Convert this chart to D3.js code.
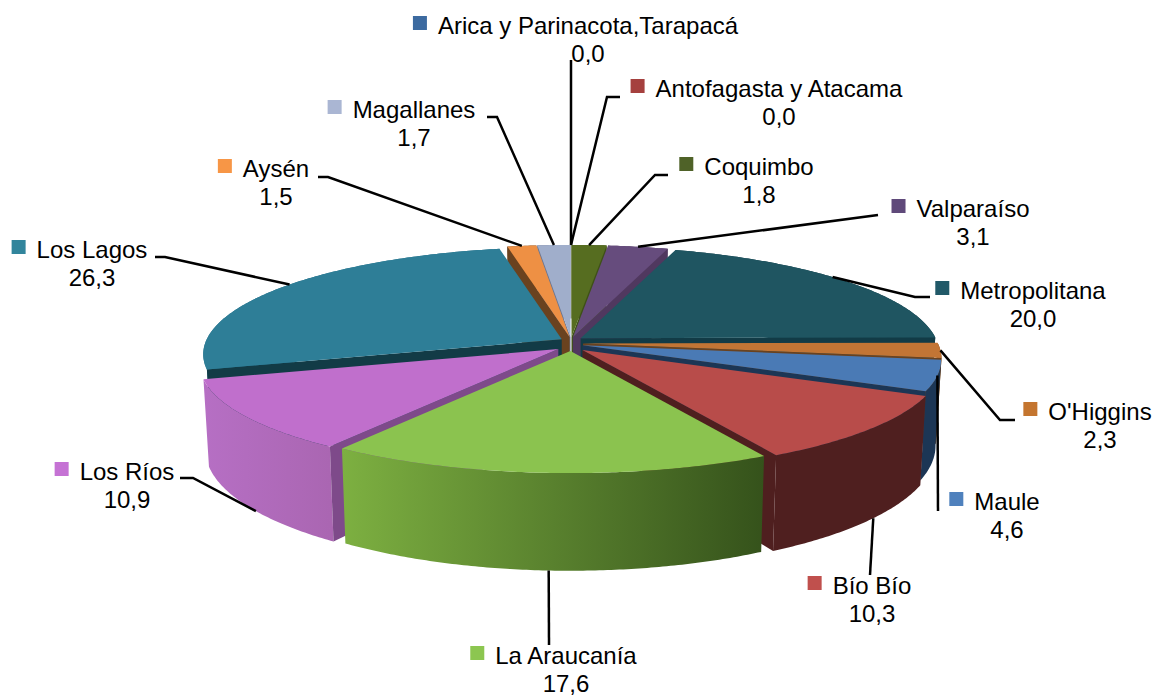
<!DOCTYPE html>
<html>
<head>
<meta charset="utf-8">
<script src="https://cdn.jsdelivr.net/npm/d3@7"></script>
<style>
  body { margin: 0; background: #fff; }
  text { font-family: "Liberation Sans", Arial, sans-serif; font-size: 24px; fill: #000; }
</style>
</head>
<body>
<div class="board"></div>
<script>
// values clockwise from 12 o'clock
var regions = ["Arica y Parinacota,Tarapacá", "Antofagasta y Atacama", "Coquimbo", "Valparaíso", "Metropolitana",
  "O'Higgins", "Maule", "Bío Bío", "La Araucanía", "Los Ríos", "Los Lagos", "Aysén", "Magallanes"];
var shares = [0.0, 0.0, 1.8, 3.1, 20.0, 2.3, 4.6, 10.3, 17.6, 10.9, 26.3, 1.5, 1.7];
var shareLabels = ["0,0", "0,0", "1,8", "3,1", "20,0", "2,3", "4,6", "10,3", "17,6", "10,9", "26,3", "1,5", "1,7"];

// colours
var legendColors = ["#3c6aa0", "#a5403e", "#4f6228", "#5f497a", "#215968", "#c4752f", "#4f81bd", "#c0504d", "#8cc650", "#c572d4", "#31859c", "#f79646", "#aab6d3"];
var topColors = ["#3c6aa0", "#a5403e", "#566d20", "#664c7d", "#1f5561", "#c27535", "#4a7ab5", "#b84c4a", "#8bc34f", "#c06fcc", "#2e7e97", "#ee9044", "#a0aecb"];
var sideColors = ["#24405f", "#5f2322", "#3f5018", "#50385f", "#123b46", "#6a421f", "#1c3655", "#4f1f1f", "#4f7a2a", "#7e4a8a", "#123b46", "#6a421f", "#6a7590"];
var wallLeft = ["#24405f", "#5f2322", "#3f5018", "#50385f", "#123b46", "#6a421f", "#1c3655", "#4f1f1f", "#7db041", "#b66fc4", "#2a7088", "#6a421f", "#6a7590"];
var wallRight = ["#24405f", "#5f2322", "#3f5018", "#50385f", "#123b46", "#6a421f", "#1c3655", "#4f1f1f", "#35521b", "#aa66b2", "#2a7088", "#6a421f", "#6a7590"];

// how far each slice is pulled out, relative to board.explodeX/Y
var explode = [0.75, 0.75, 0.75, 0.75, 1, 1, 1, 1.3, 1, 1.3, 0.9, 0.75, 0.75];

// label layout: centre of the name, baseline of the name, baseline of the value
var labelCx = [588, 779, 759, 973, 1033, 1100, 1007, 872, 566, 127, 92, 276, 414];
var labelY = [34, 97, 175, 217, 299, 420, 510, 594, 664, 480, 258, 177, 118];
var valueY = [62, 125, 203, 245, 327, 448, 538, 622, 692, 508, 286, 205, 146];
// elbow of each leader line, null means a straight line
var elbowStart = [[571, 60], [607, 97], [655, 175], [878, 215], [915, 297], [1000, 420], [938, 511], [870, 575], [549, 645], [193, 478], [165, 257], [328, 177], [497, 117]];
var elbowEnd = [null, [620, 97], [668, 175], null, [930, 297], [1015, 420], null, null, null, [180, 478], [155, 257], [318, 177], [487, 117]];
// leader lines do not leave exactly at the middle of the slice, degrees
var leaderShift = [0, 0, 0, 0, -3, 0, 0, -2, 0, -2, 3, 0, 0];

var board = { width: 1159, height: 696, cx: 571, cy: 343, rx: 355, ry: 105, persp: 0.14, depth: 84, explodeX: 12, explodeY: 8 };

var svg = d3.select(".board").append("svg")
  .attr("width", board.width)
  .attr("height", board.height);
var defs = svg.append("defs");

// a point on the disc (angle clockwise from north, radius 0..1) to the screen
function project(d, angle, r, low) {
  var mid = (d.startAngle + d.endAngle) / 2;
  var u = Math.sin(angle) * r, v = -Math.cos(angle) * r;
  var p = 1 / (1 - board.persp * v);
  var x = board.cx + explode[d.index] * board.explodeX * Math.sin(mid) + board.rx * u * p;
  var y = board.cy - explode[d.index] * board.explodeY * Math.cos(mid) + board.ry * v * p;
  if (low) {
    x = board.cx + (x - board.cx) * 0.985;
    y += board.depth * p;
  }
  return [x, y];
}

var line = d3.line();
var slices = d3.pie().sort(null).value(function(d) { return d; })(shares);

function arcPoints(d, low) {
  var n = Math.max(2, Math.ceil((d.endAngle - d.startAngle) / 0.01));
  return d3.range(n + 1).map(function(i) {
    return project(d, d.startAngle + (d.endAngle - d.startAngle) * i / n, 1, low);
  });
}

// back slices first so the front ones cover them
var order = d3.range(slices.length).filter(function(i) { return shares[i] > 0; });
order.sort(function(a, b) {
  var ma = (slices[a].startAngle + slices[a].endAngle) / 2;
  var mb = (slices[b].startAngle + slices[b].endAngle) / 2;
  return d3.ascending(-Math.cos(ma), -Math.cos(mb));
});

order.forEach(function(i) {
  var d = slices[i];
  var g = svg.append("g").attr("class", "slice");
  var top = arcPoints(d, false), low = arcPoints(d, true);
  var apexTop = project(d, d.startAngle, 0, false), apexLow = project(d, d.startAngle, 0, true);

  // outer wall, shaded left to right
  var xs = d3.extent(top, function(p) { return p[0]; });
  var grad = defs.append("linearGradient")
    .attr("id", "wall" + i)
    .attr("gradientUnits", "userSpaceOnUse")
    .attr("x1", xs[0]).attr("x2", xs[1]).attr("y1", 0).attr("y2", 0);
  grad.append("stop").attr("offset", 0).attr("stop-color", wallLeft[i]);
  grad.append("stop").attr("offset", 1).attr("stop-color", wallRight[i]);
  g.append("path")
    .attr("d", line(top.concat(low.slice().reverse())) + "Z")
    .attr("fill", "url(#wall" + i + ")");

  // radial walls, only the ones that face the viewer
  var walls = [];
  if (Math.sin(d.startAngle) < 0) walls.push([top[0], low[0]]);
  if (Math.sin(d.endAngle) > 0) walls.push([top[top.length - 1], low[low.length - 1]]);
  walls.forEach(function(e) {
    g.append("path")
      .attr("d", line([apexTop, e[0], e[1], apexLow]) + "Z")
      .attr("fill", sideColors[i]);
  });

  // top face
  g.append("path")
    .attr("d", line([apexTop].concat(top)) + "Z")
    .attr("fill", topColors[i]);
});

// leader lines start on the rim of the slice, front slices on the lower rim
slices.forEach(function(d, i) {
  var mid = (d.startAngle + d.endAngle) / 2;
  var front = -Math.cos(mid) > 0.3;
  var pts = [project(d, mid + leaderShift[i] * Math.PI / 180, 1, front), elbowStart[i]];
  if (elbowEnd[i]) pts.push(elbowEnd[i]);
  svg.append("path")
    .attr("d", line(pts))
    .attr("fill", "none")
    .attr("stroke", "#000")
    .attr("stroke-width", 2.5);
});

regions.forEach(function(name, i) {
  var t = svg.append("text")
    .attr("x", labelCx[i]).attr("y", labelY[i])
    .attr("text-anchor", "middle")
    .text(name);
  svg.append("text")
    .attr("x", labelCx[i]).attr("y", valueY[i])
    .attr("text-anchor", "middle")
    .text(shareLabels[i]);
  var w = t.node().getComputedTextLength();
  svg.append("rect")
    .attr("x", labelCx[i] - w / 2 - 25)
    .attr("y", labelY[i] - 18)
    .attr("width", 14).attr("height", 14)
    .attr("fill", legendColors[i]);
});
</script>
</body>
</html>
